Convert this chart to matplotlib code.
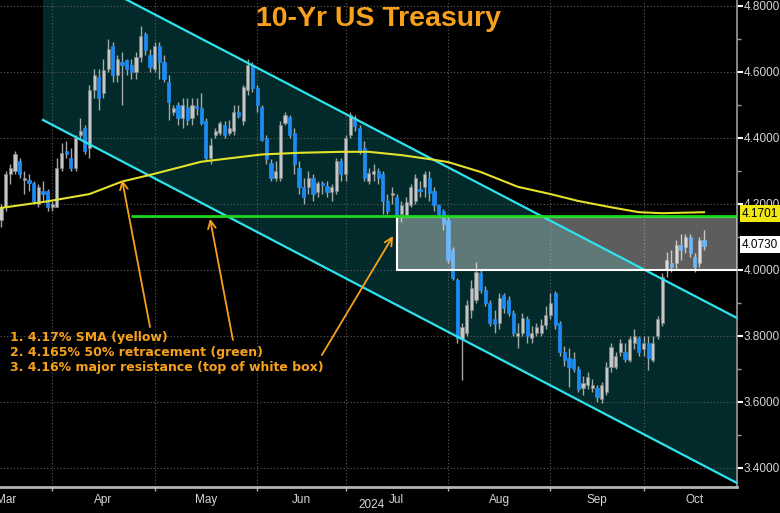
import matplotlib.pyplot as plt
import numpy as np
import pandas as pd
from matplotlib.patches import Rectangle
from matplotlib.ticker import FormatStrFormatter

# trading calendar (bond market holidays are skipped on the chart)
start_date = "2024-03-13"
end_date = "2024-10-18"
holidays = ["2024-03-29", "2024-05-27", "2024-06-19", "2024-07-04",
            "2024-09-02", "2024-10-14"]

# daily OHLC of the 10-yr yield
opens = [
    4.15, 4.19, 4.29, 4.30, 4.33, 4.272, 4.272, 4.265, 4.20, 4.24, 4.24, 4.19,
    4.19, 4.31, 4.36, 4.34, 4.31, 4.41, 4.43, 4.37, 4.545, 4.585, 4.535, 4.61,
    4.68, 4.59, 4.63, 4.635, 4.62, 4.60, 4.645, 4.715, 4.65, 4.61,
    4.68, 4.63, 4.57, 4.48, 4.50, 4.46, 4.495, 4.46, 4.497, 4.49, 4.45, 4.34,
    4.41, 4.415, 4.44, 4.415, 4.42, 4.48, 4.45, 4.545, 4.62, 4.55,
    4.495, 4.40, 4.325, 4.28, 4.28, 4.445, 4.465, 4.415, 4.31, 4.25, 4.25,
    4.28, 4.235, 4.265, 4.255, 4.235, 4.24, 4.33, 4.29,
    4.41, 4.46, 4.43, 4.37, 4.27, 4.29, 4.30, 4.29, 4.21, 4.227, 4.22, 4.17,
    4.167, 4.197, 4.21, 4.245, 4.25, 4.28, 4.24, 4.197, 4.18, 4.15,
    4.06, 3.97, 3.79, 3.81, 3.88, 3.91, 3.99, 3.94, 3.90, 3.85, 3.84, 3.924,
    3.91, 3.87, 3.80, 3.81, 3.85, 3.795, 3.81, 3.81, 3.833, 3.864,
    3.93, 3.84, 3.75, 3.733, 3.73, 3.70, 3.642, 3.65, 3.642, 3.642, 3.61,
    3.63, 3.706, 3.706, 3.75, 3.75, 3.727, 3.78, 3.794, 3.76,
    3.78, 3.727, 3.80, 3.84, 4.00, 4.02, 4.02, 4.075, 4.07, 4.10, 4.04, 4.02,
    4.09,
]
highs = [
    4.20, 4.30, 4.32, 4.36, 4.34, 4.30, 4.29, 4.27, 4.26, 4.27, 4.245, 4.21,
    4.34, 4.385, 4.39, 4.37, 4.41, 4.46, 4.44, 4.56, 4.61, 4.61, 4.64, 4.70,
    4.69, 4.65, 4.66, 4.64, 4.64, 4.66, 4.74, 4.72, 4.67, 4.69,
    4.69, 4.65, 4.59, 4.50, 4.51, 4.52, 4.52, 4.52, 4.52, 4.535, 4.46, 4.40,
    4.43, 4.45, 4.45, 4.455, 4.50, 4.50, 4.56, 4.64, 4.63, 4.56,
    4.50, 4.41, 4.335, 4.33, 4.45, 4.48, 4.47, 4.43, 4.33, 4.28, 4.30,
    4.29, 4.27, 4.27, 4.27, 4.26, 4.34, 4.34, 4.41,
    4.48, 4.47, 4.44, 4.39, 4.31, 4.32, 4.31, 4.30, 4.23, 4.25, 4.23, 4.21,
    4.22, 4.26, 4.29, 4.27, 4.30, 4.30, 4.25, 4.20, 4.185, 4.16,
    4.07, 3.975, 3.84, 3.91, 3.97, 4.024, 4.00, 3.95, 3.91, 3.88, 3.93, 3.93,
    3.92, 3.88, 3.84, 3.87, 3.86, 3.83, 3.84, 3.85, 3.89, 3.93,
    3.935, 3.845, 3.77, 3.764, 3.75, 3.71, 3.68, 3.69, 3.67, 3.65, 3.66,
    3.72, 3.78, 3.75, 3.79, 3.78, 3.80, 3.82, 3.80, 3.80,
    3.80, 3.80, 3.86, 3.99, 4.055, 4.06, 4.09, 4.11, 4.11, 4.11, 4.05, 4.10,
    4.12,
]
lows = [
    4.13, 4.18, 4.26, 4.29, 4.28, 4.23, 4.24, 4.20, 4.19, 4.21, 4.18, 4.18,
    4.19, 4.30, 4.34, 4.30, 4.30, 4.40, 4.35, 4.34, 4.52, 4.485, 4.52, 4.60,
    4.57, 4.57, 4.50, 4.59, 4.58, 4.58, 4.63, 4.65, 4.60, 4.60,
    4.58, 4.57, 4.455, 4.47, 4.44, 4.43, 4.44, 4.44, 4.47, 4.44, 4.33, 4.32,
    4.40, 4.41, 4.40, 4.41, 4.41, 4.46, 4.44, 4.53, 4.54, 4.48,
    4.39, 4.32, 4.27, 4.27, 4.27, 4.44, 4.40, 4.29, 4.23, 4.20, 4.23,
    4.21, 4.22, 4.23, 4.22, 4.21, 4.23, 4.27, 4.27,
    4.40, 4.42, 4.35, 4.27, 4.26, 4.27, 4.26, 4.17, 4.17, 4.20, 4.145, 4.145,
    4.16, 4.19, 4.20, 4.22, 4.22, 4.21, 4.18, 4.16, 4.12, 4.02,
    3.97, 3.78, 3.667, 3.80, 3.855, 3.90, 3.93, 3.89, 3.83, 3.81, 3.82, 3.87,
    3.86, 3.80, 3.764, 3.80, 3.78, 3.78, 3.80, 3.80, 3.82, 3.85,
    3.82, 3.74, 3.71, 3.645, 3.69, 3.63, 3.62, 3.64, 3.63, 3.60, 3.597,
    3.62, 3.69, 3.70, 3.74, 3.72, 3.72, 3.76, 3.74, 3.74,
    3.697, 3.72, 3.79, 3.83, 3.98, 3.995, 4.00, 4.03, 4.05, 4.04, 3.995, 4.01,
    4.06,
]
closes = [
    4.19, 4.29, 4.31, 4.35, 4.29, 4.278, 4.265, 4.21, 4.25, 4.23, 4.19, 4.20,
    4.31, 4.355, 4.35, 4.31, 4.40, 4.42, 4.36, 4.545, 4.59, 4.52, 4.605, 4.67,
    4.59, 4.64, 4.62, 4.61, 4.60, 4.645, 4.71, 4.665, 4.615, 4.68,
    4.63, 4.58, 4.51, 4.49, 4.46, 4.50, 4.455, 4.50, 4.49, 4.445, 4.34, 4.38,
    4.42, 4.445, 4.41, 4.43, 4.48, 4.466, 4.555, 4.62, 4.55, 4.50,
    4.395, 4.335, 4.28, 4.30, 4.44, 4.47, 4.41, 4.32, 4.25, 4.22, 4.28,
    4.23, 4.262, 4.257, 4.235, 4.25, 4.33, 4.29, 4.40,
    4.47, 4.435, 4.365, 4.28, 4.295, 4.30, 4.28, 4.21, 4.18, 4.232, 4.167,
    4.197, 4.206, 4.25, 4.28, 4.24, 4.29, 4.233, 4.197, 4.17, 4.14, 4.03,
    3.976, 3.794, 3.827, 3.894, 3.945, 3.994, 3.94, 3.90, 3.84, 3.836, 3.915,
    3.885, 3.87, 3.81, 3.81, 3.855, 3.80, 3.81, 3.827, 3.833, 3.864, 3.90,
    3.833, 3.75, 3.727, 3.706, 3.70, 3.64, 3.657, 3.676, 3.65, 3.615, 3.65,
    3.706, 3.767, 3.74, 3.78, 3.73, 3.79, 3.80, 3.75, 3.78,
    3.733, 3.78, 3.85, 3.98, 4.03, 4.01, 4.075, 4.06, 4.10, 4.05, 4.01, 4.09,
    4.073,
]

# moving average (yellow), sampled along the line: trading-day position, yield
sma_pos = [0, 10, 19, 26, 32, 43, 56, 64, 73, 79, 86, 92, 96, 103, 111,
           118, 124, 131, 137, 142, 151]
sma_val = [4.188, 4.208, 4.23, 4.268, 4.288, 4.328, 4.350, 4.355, 4.358,
           4.358, 4.348, 4.336, 4.327, 4.297, 4.252, 4.230, 4.209, 4.190,
           4.175, 4.172, 4.175]
sma_last = 4.1701

# falling channel: trading-day positions of the ends, upper / lower yields
channel_pos = [9, 158]
channel_up = [4.951, 3.855]
channel_low = [4.4545, 3.355]

retracement = 4.165          # green line
retr_start = "2024-04-23"
box_low, box_high = 4.0, 4.16  # resistance box
box_start = "2024-07-16"

notes = [
    "1. 4.17% SMA (yellow)",
    "2. 4.165% 50% retracement (green)",
    "3. 4.16% major resistance (top of white box)",
]

orange = "#f7a01c"
cyan = "#2fe3ee"

dates = pd.bdate_range(start_date, end_date, freq="C", holidays=holidays)
x = np.arange(len(dates))
o, h, l, c = (np.array(v) for v in (opens, highs, lows, closes))

# month boundaries = last trading day of each month
cal = pd.bdate_range("2024-02-01", "2024-11-30", freq="C", holidays=holidays)
pos = pd.Series(np.arange(len(cal)) - cal.get_loc(dates[0]), index=cal)
month_end = pos.groupby(cal.to_period("M")).max()
grid_x = month_end.loc["2024-03":"2024-09"].values
label_x = (month_end.shift(1) + month_end).loc["2024-03":"2024-10"].values / 2
label_txt = [p.strftime("%b") for p in month_end.loc["2024-03":"2024-10"].index]

xmin, xmax = -0.22, 158.07
fig = plt.figure(figsize=(7.8, 5.13), dpi=100, facecolor="black")
ax = fig.add_axes([0, 26 / 513, 737 / 780, 487 / 513])
ax.set_facecolor("black")
ax.set_xlim(xmin, xmax)
ax.set_ylim(3.3424, 4.818)

# channel
ax.fill_between(channel_pos, channel_low, channel_up, color="#032a2a", lw=0, zorder=0)
ax.plot(channel_pos, channel_up, color=cyan, lw=1.6, zorder=4)
ax.plot(channel_pos, channel_low, color=cyan, lw=1.6, zorder=4)

# grid
yt = np.round(np.arange(3.4, 4.81, 0.2), 1)
for v in yt:
    ax.axhline(v, color="#5c5c5c", lw=0.8, ls=(0, (1, 2)), zorder=1)
for g in grid_x:
    ax.axvline(g, color="#5c5c5c", lw=0.8, ls=(0, (1, 2)), zorder=1)

# candles
up = c >= o
ax.vlines(x, l, h, color="#a4a8a8", lw=1, zorder=2)
body_lo = np.minimum(o, c)
body_h = np.maximum(np.abs(c - o), 0.004)
ax.bar(x[up], body_h[up], 0.68, bottom=body_lo[up], color="#c3c7c7",
       edgecolor="#7f8484", lw=0.5, zorder=2.5)
ax.bar(x[~up], body_h[~up], 0.68, bottom=body_lo[~up], color="#1c8cf4",
       edgecolor="#1c8cf4", lw=0.5, zorder=2.5)

# resistance box
bx = dates.get_loc(pd.Timestamp(box_start))
ax.add_patch(Rectangle((bx, box_low), xmax + 5 - bx, box_high - box_low,
                       facecolor="white", alpha=0.37, edgecolor="none", zorder=3))
ax.add_patch(Rectangle((bx, box_low), xmax + 5 - bx, box_high - box_low,
                       fill=False, edgecolor="white", lw=1.5, zorder=4.5))

# retracement and SMA
gx = dates.get_loc(pd.Timestamp(retr_start))
ax.hlines(retracement, gx, xmax, color="#1ed81e", lw=2, zorder=4.6)
ax.plot(sma_pos, sma_val, color="#e2e22c", lw=1.5, zorder=4.7)

# axes styling
for s in ("top", "left"):
    ax.spines[s].set_visible(False)
ax.spines["right"].set_color("#9a9a9a")
ax.spines["right"].set_linewidth(1.2)
ax.spines["bottom"].set_color("#b4b4b4")
ax.spines["bottom"].set_linewidth(2)

ax.yaxis.tick_right()
ax.set_yticks(yt)
ax.set_yticks(np.round(np.arange(3.5, 4.8, 0.2), 1), minor=True)
ax.yaxis.set_major_formatter(FormatStrFormatter("%.4f"))
ax.tick_params(axis="y", which="major", colors="white", labelcolor="#d6d6d6",
               labelsize=8.5, length=4, width=1.5, pad=1)
ax.tick_params(axis="y", which="minor", colors="#9a9a9a", length=3, width=1)
for t in ax.get_yticklabels():
    t.set_family("Liberation Sans")

ax.set_xticks(label_x)
ax.set_xticklabels(label_txt, family="Liberation Sans")
ax.set_xticks(grid_x, minor=True)
ax.tick_params(axis="x", which="major", length=0, labelcolor="#d6d6d6",
               labelsize=8.5, pad=5)
ax.tick_params(axis="x", which="minor", colors="#b4b4b4", length=3, width=1)
fig.text(372 / 780, 1 - 505 / 513, "2024", ha="center", va="center",
         color="#d6d6d6", fontsize=8.5, family="Liberation Sans")

# last value tags on the right axis
tr = ax.get_yaxis_transform()
ax.text(1.007, sma_last, f"{sma_last:.4f}", transform=tr, ha="left", va="center",
        fontsize=8.5, color="black", clip_on=False, zorder=6, family="Liberation Sans",
        bbox=dict(boxstyle="square,pad=0.22", fc="#f0e80e", ec="none"))
ax.text(1.007, c[-1] + 0.003, f"{c[-1]:.4f}", transform=tr, ha="left", va="center",
        fontsize=8.5, color="black", clip_on=False, zorder=6, family="Liberation Sans",
        bbox=dict(boxstyle="square,pad=0.22", fc="white", ec="none"))

# title and notes
fig.text(0.485, 0.962, "10-Yr US Treasury", color=orange, fontsize=20.5,
         fontweight="bold", ha="center", va="center", family="Liberation Sans")
for k, t in enumerate(notes):
    ax.text(0.0136, 0.306 - k * 0.0298, t, transform=ax.transAxes, color=orange,
            fontsize=9, fontweight="bold", ha="left", va="center", zorder=6)

arrow = dict(arrowstyle="->", color=orange, lw=1.3, mutation_scale=14,
             shrinkA=0, shrinkB=0)
ax.annotate("", xy=(26.0, 4.273), xytext=(32.0, 3.827), arrowprops=arrow, zorder=6)
ax.annotate("", xy=(44.9, 4.155), xytext=(49.8, 3.788), arrowprops=arrow, zorder=6)
ax.annotate("", xy=(84.2, 4.103), xytext=(68.9, 3.742), arrowprops=arrow, zorder=6)

fig.savefig("out.png", dpi=100, facecolor="black")
